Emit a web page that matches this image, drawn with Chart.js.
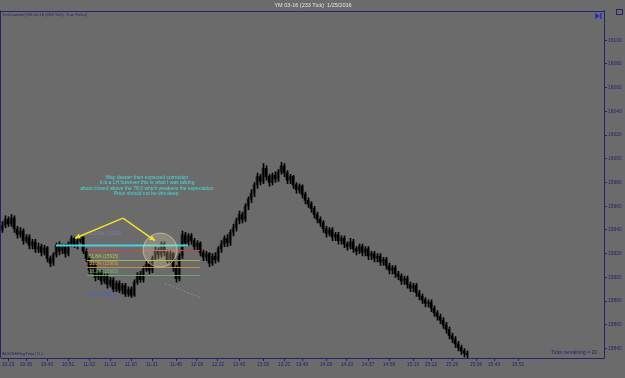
<!DOCTYPE html>
<html>
<head>
<meta charset="utf-8">
<script src="https://cdn.jsdelivr.net/npm/chart.js@4.4.1/dist/chart.umd.min.js"></script>
<style>
  html, body { margin: 0; padding: 0; background: #6b6b6b; }
  #wrap { position: relative; width: 625px; height: 378px; }
</style>
</head>
<body>
<div id="wrap"><canvas id="chart" width="625" height="378"></canvas></div>
<script>
const chartTitle = 'YM 03-16 (233 Tick)  1/25/2016';

// time labels along the bottom and the bar each one sits on
const timeLabels = ['10:23', '10:30', '10:40', '10:51', '11:02', '11:13', '11:20', '11:31', '11:46', '12:05',
    '12:22', '12:45', '13:05', '13:20', '13:40', '14:09', '14:20', '14:37', '14:56', '15:10',
    '15:22', '15:29', '15:36', '15:43', '15:51'];
const timeBars = [2, 8, 15, 22, 29, 36, 43, 50, 58, 65, 72, 79, 87, 94, 100, 108, 115, 122, 129, 137,
    143, 150, 158, 164, 172];

const priceTicks = [15840, 15860, 15880, 15900, 15920, 15940, 15960, 15980, 16000, 16020, 16040, 16060, 16080, 16100];

// 233 tick bars
const opens = [15940, 15944, 15949, 15945, 15950, 15941, 15936, 15939, 15931, 15934,
    15927, 15930, 15924, 15926, 15921, 15925, 15916, 15912, 15919, 15927,
    15922, 15926, 15920, 15928, 15933, 15927, 15931, 15934, 15922, 15916,
    15906, 15910, 15900, 15904, 15897, 15901, 15894, 15898, 15890, 15895,
    15889, 15893, 15886, 15890, 15885, 15896, 15902, 15898, 15907, 15911,
    15906, 15916, 15923, 15919, 15928, 15921, 15915, 15920, 15908, 15899,
    15918, 15936, 15929, 15935, 15931, 15926, 15929, 15921, 15917, 15920,
    15912, 15918, 15915, 15924, 15928, 15933, 15929, 15938, 15942, 15948,
    15953, 15949, 15960, 15966, 15971, 15978, 15985, 15981, 15992, 15985,
    15980, 15986, 15983, 15989, 15994, 15988, 15982, 15985, 15978, 15974,
    15977, 15970, 15965, 15962, 15958, 15953, 15949, 15946, 15941, 15937,
    15940, 15934, 15936, 15931, 15933, 15928, 15926, 15930, 15924, 15922,
    15926, 15921, 15924, 15918, 15920, 15916, 15918, 15913, 15915, 15910,
    15906, 15908, 15903, 15901, 15897, 15899, 15894, 15891, 15893, 15887,
    15884, 15881, 15878, 15879, 15874, 15870, 15867, 15864, 15860, 15856,
    15851, 15848, 15844, 15841, 15838, 15836];
const highs = [15947, 15952, 15951, 15953, 15952, 15943, 15942, 15941, 15936, 15936,
    15932, 15932, 15929, 15928, 15927, 15926, 15918, 15921, 15929, 15930,
    15928, 15928, 15930, 15935, 15934, 15933, 15934, 15934, 15924, 15918,
    15912, 15912, 15906, 15906, 15903, 15903, 15900, 15900, 15897, 15897,
    15895, 15895, 15892, 15892, 15898, 15904, 15905, 15909, 15914, 15913,
    15918, 15926, 15925, 15930, 15930, 15923, 15923, 15921, 15910, 15920,
    15939, 15938, 15937, 15937, 15933, 15931, 15930, 15923, 15922, 15921,
    15920, 15921, 15926, 15931, 15935, 15936, 15940, 15945, 15950, 15956,
    15955, 15962, 15968, 15974, 15980, 15988, 15987, 15996, 15994, 15987,
    15988, 15989, 15991, 15997, 15996, 15990, 15987, 15986, 15980, 15979,
    15978, 15972, 15967, 15964, 15960, 15955, 15951, 15948, 15943, 15942,
    15942, 15938, 15938, 15935, 15935, 15930, 15933, 15932, 15926, 15928,
    15928, 15926, 15926, 15922, 15922, 15920, 15920, 15917, 15917, 15912,
    15910, 15910, 15905, 15903, 15901, 15901, 15896, 15895, 15895, 15889,
    15886, 15883, 15881, 15881, 15876, 15872, 15869, 15866, 15862, 15858,
    15853, 15850, 15846, 15843, 15840, 15838];
const lows = [15938, 15942, 15943, 15943, 15938, 15933, 15934, 15928, 15929, 15924,
    15924, 15921, 15921, 15918, 15919, 15913, 15909, 15910, 15917, 15919,
    15920, 15917, 15918, 15926, 15925, 15924, 15929, 15920, 15913, 15903,
    15903, 15897, 15898, 15894, 15895, 15891, 15892, 15888, 15888, 15887,
    15886, 15884, 15884, 15883, 15884, 15894, 15896, 15896, 15905, 15903,
    15904, 15914, 15916, 15917, 15918, 15912, 15912, 15905, 15896, 15897,
    15916, 15926, 15927, 15928, 15923, 15923, 15918, 15914, 15914, 15909,
    15910, 15912, 15913, 15921, 15926, 15926, 15927, 15935, 15939, 15945,
    15946, 15947, 15957, 15963, 15968, 15975, 15978, 15979, 15982, 15977,
    15978, 15980, 15981, 15987, 15985, 15979, 15979, 15975, 15971, 15971,
    15967, 15962, 15959, 15955, 15950, 15946, 15943, 15938, 15934, 15935,
    15931, 15931, 15928, 15928, 15925, 15923, 15924, 15921, 15919, 15920,
    15918, 15918, 15915, 15915, 15913, 15913, 15910, 15910, 15907, 15903,
    15903, 15900, 15898, 15894, 15894, 15891, 15888, 15888, 15884, 15881,
    15878, 15875, 15875, 15871, 15867, 15864, 15861, 15857, 15853, 15848,
    15845, 15841, 15838, 15835, 15833, 15832];
const closes = [15944, 15949, 15945, 15950, 15941, 15936, 15939, 15931, 15934, 15927,
    15930, 15924, 15926, 15921, 15925, 15916, 15912, 15919, 15927, 15922,
    15926, 15920, 15928, 15933, 15927, 15931, 15934, 15922, 15916, 15906,
    15910, 15900, 15904, 15897, 15901, 15894, 15898, 15890, 15895, 15889,
    15893, 15886, 15890, 15885, 15896, 15902, 15898, 15907, 15911, 15906,
    15916, 15923, 15919, 15928, 15921, 15915, 15920, 15908, 15899, 15918,
    15936, 15929, 15935, 15931, 15926, 15929, 15921, 15917, 15920, 15912,
    15918, 15915, 15924, 15928, 15933, 15929, 15938, 15942, 15948, 15953,
    15949, 15960, 15966, 15971, 15978, 15985, 15981, 15992, 15985, 15980,
    15986, 15983, 15989, 15994, 15988, 15982, 15985, 15978, 15974, 15977,
    15970, 15965, 15962, 15958, 15953, 15949, 15946, 15941, 15937, 15940,
    15934, 15936, 15931, 15933, 15928, 15926, 15930, 15924, 15922, 15926,
    15921, 15924, 15918, 15920, 15916, 15918, 15913, 15915, 15910, 15906,
    15908, 15903, 15901, 15897, 15899, 15894, 15891, 15893, 15887, 15884,
    15881, 15878, 15879, 15874, 15870, 15867, 15864, 15860, 15856, 15851,
    15848, 15844, 15841, 15838, 15836, 15835];

// fibonacci retracement drawn on the pullback
const fibLabels = ['100.0%', '78.6%', '61.8%', '50.0%', '38.2%', '0.0%'];
const fibPrices = [15934, 15923, 15915, 15909, 15902, 15883];
const fibStartBar = 28.3;
const fibEndBar = 66;
const cyanPrice = 15927;
const cyanBars = [18, 62];

const noteLines = [
    'Way deeper then expected correction',
    'It is a LH however this is what I was talking',
    'about closed above the 78.6 which weakens the expectation',
    'Price should not be this deep.',
];

const BG = '#6b6b6b';
const NAVY = '#23236e';
const FONT = 'Liberation Sans, Arial, sans-serif';
const fibColors = ['#7183b8', '#d04848', '#b6cc48', '#e09a48', '#6cc06c', '#4866c8'];
const fibLineColors = [null, '#cc4646', '#a4b048', '#cc8c44', '#6ea86e', null];

function arrow(ctx, x0, y0, x1, y1) {
    const ang = Math.atan2(y1 - y0, x1 - x0);
    ctx.beginPath();
    ctx.moveTo(x0, y0);
    ctx.lineTo(x1, y1);
    ctx.stroke();
    ctx.beginPath();
    ctx.moveTo(x1, y1);
    ctx.lineTo(x1 - 6 * Math.cos(ang - 0.45), y1 - 6 * Math.sin(ang - 0.45));
    ctx.lineTo(x1 - 6 * Math.cos(ang + 0.45), y1 - 6 * Math.sin(ang + 0.45));
    ctx.closePath();
    ctx.fill();
}

const overlay = {
    id: 'overlay',
    beforeDraw(chart) {
        const { ctx, width, height } = chart;
        ctx.save();
        ctx.fillStyle = BG;
        ctx.fillRect(0, 0, width, height);
        ctx.restore();
    },
    afterDatasetsDraw(chart) {
        const { ctx, chartArea: a, scales: { x, y } } = chart;
        ctx.save();

        // fib levels
        const fx0 = x.getPixelForValue(fibStartBar);
        const fx1 = x.getPixelForValue(fibEndBar);
        ctx.font = '4.5px ' + FONT;
        ctx.textBaseline = 'bottom';
        fibPrices.forEach((p, i) => {
            const py = Math.round(y.getPixelForValue(p)) + 0.5;
            if (fibLineColors[i]) {
                ctx.strokeStyle = fibLineColors[i];
                ctx.lineWidth = 1;
                ctx.beginPath();
                ctx.moveTo(fx0, py);
                ctx.lineTo(fx1, py);
                ctx.stroke();
            }
            ctx.fillStyle = fibColors[i];
            ctx.fillText(fibLabels[i] + ' (' + p + ')', fx0 + 2, py - 1.5);
        });

        // faint trend line toward the low
        ctx.strokeStyle = 'rgba(150,150,150,0.8)';
        ctx.setLineDash([2, 2]);
        ctx.beginPath();
        ctx.moveTo(x.getPixelForValue(54.3), y.getPixelForValue(15895));
        ctx.lineTo(x.getPixelForValue(66), y.getPixelForValue(15883));
        ctx.stroke();
        ctx.setLineDash([]);

        // cyan level
        const cy = Math.round(y.getPixelForValue(cyanPrice)) + 0.5;
        ctx.strokeStyle = '#3fd6e0';
        ctx.lineWidth = 2;
        ctx.beginPath();
        ctx.moveTo(x.getPixelForValue(cyanBars[0]), cy);
        ctx.lineTo(x.getPixelForValue(cyanBars[1]), cy);
        ctx.stroke();

        // circled retest
        ctx.beginPath();
        ctx.arc(x.getPixelForValue(52.7), y.getPixelForValue(15923), 17, 0, Math.PI * 2);
        ctx.fillStyle = 'rgba(235,215,170,0.28)';
        ctx.fill();
        ctx.strokeStyle = 'rgba(240,225,185,0.55)';
        ctx.lineWidth = 1;
        ctx.stroke();

        // yellow arrows
        ctx.strokeStyle = '#f2e02a';
        ctx.fillStyle = '#f2e02a';
        ctx.lineWidth = 1.5;
        const ax = x.getPixelForValue(40.3), ay = y.getPixelForValue(15950);
        arrow(ctx, ax, ay, x.getPixelForValue(24.3), y.getPixelForValue(15933));
        arrow(ctx, ax, ay, x.getPixelForValue(51), y.getPixelForValue(15931));

        // note
        ctx.fillStyle = '#46dcdc';
        ctx.font = '5px ' + FONT;
        ctx.textAlign = 'center';
        ctx.textBaseline = 'middle';
        const nx = x.getPixelForValue(48.3), ny = y.getPixelForValue(15984);
        noteLines.forEach((t, i) => ctx.fillText(t, nx, ny + i * 5.3));

        // panel frame and captions
        ctx.strokeStyle = NAVY;
        ctx.lineWidth = 1;
        ctx.beginPath();
        ctx.moveTo(0.5, Math.round(a.top) + 0.5);
        ctx.lineTo(Math.round(a.right) + 0.5, Math.round(a.top) + 0.5);
        ctx.moveTo(0.5, a.top);
        ctx.lineTo(0.5, a.bottom);
        ctx.stroke();
        ctx.strokeRect(616.5, 9.5, 6, 5);

        ctx.fillStyle = NAVY;
        ctx.textAlign = 'left';
        ctx.textBaseline = 'top';
        ctx.font = '4.2px ' + FONT;
        ctx.fillText('TickCounter(YM 03-16 (233 Tick), True False)', 2, a.top + 2);
        ctx.textBaseline = 'bottom';
        ctx.fillText('ALSOHiFlagTime( U )', 2, a.bottom - 2);
        ctx.font = '5px ' + FONT;
        ctx.textAlign = 'right';
        ctx.fillText('Ticks remaining = 20', a.right - 7, a.bottom - 3);

        ctx.fillStyle = '#2a2ad0';
        ctx.beginPath();
        ctx.moveTo(595, 13);
        ctx.lineTo(600, 16);
        ctx.lineTo(595, 19);
        ctx.closePath();
        ctx.fill();
        ctx.fillRect(600, 13, 1.5, 6);

        ctx.restore();
    },
};

function buildChart() {
    const idx = closes.map((_, i) => i);
    const upColor = '#262626';
    const downColor = '#000000';

    return new Chart(document.getElementById('chart'), {
        type: 'bar',
        data: {
            datasets: [
                {
                    label: 'range',
                    // nudged half a pixel so the 1px wick lands on a whole pixel
                    data: idx.map(i => ({ x: i + 1 / 6, y: [lows[i], highs[i]] })),
                    backgroundColor: '#000000',
                    barThickness: 1,
                    grouped: false,
                },
                {
                    label: 'body',
                    data: idx.map(i => ({ x: i, y: [opens[i], closes[i]] })),
                    backgroundColor: idx.map(i => (closes[i] >= opens[i] ? upColor : downColor)),
                    barThickness: 2,
                    minBarLength: 1,
                    grouped: false,
                },
            ],
        },
        options: {
            responsive: false,
            animation: false,
            layout: { padding: { left: 1, right: 0, top: 0, bottom: 0 } },
            plugins: {
                legend: { display: false },
                tooltip: { enabled: false },
                title: {
                    display: true,
                    text: chartTitle,
                    color: '#e6e6e6',
                    font: { family: FONT, size: 5.5, weight: 'normal' },
                    padding: { top: 2, bottom: 2 },
                },
            },
            scales: {
                x: {
                    type: 'linear',
                    min: -1 / 3,
                    max: 201 - 1 / 3,
                    offset: false,
                    grid: { display: true, drawOnChartArea: false, offset: false, color: NAVY, tickLength: 3 },
                    border: { display: true, color: NAVY, width: 1 },
                    afterBuildTicks: scale => { scale.ticks = timeBars.map(v => ({ value: v })); },
                    afterFit: scale => { scale.height = 20; },
                    ticks: {
                        autoSkip: false,
                        maxRotation: 0,
                        padding: 1,
                        color: NAVY,
                        font: { family: FONT, size: 5 },
                        callback: (v, i) => timeLabels[i],
                    },
                },
                y: {
                    position: 'right',
                    min: 15832,
                    max: 16125,
                    grid: { display: true, drawOnChartArea: false, color: NAVY, tickLength: 3 },
                    border: { display: true, color: NAVY, width: 1 },
                    afterBuildTicks: scale => { scale.ticks = priceTicks.map(v => ({ value: v })); },
                    afterFit: scale => { scale.width = 21; },
                    ticks: {
                        padding: 1,
                        color: NAVY,
                        font: { family: FONT, size: 5 },
                        callback: v => String(v),
                    },
                },
            },
        },
        plugins: [overlay],
    });
}

buildChart();
</script>
</body>
</html>
